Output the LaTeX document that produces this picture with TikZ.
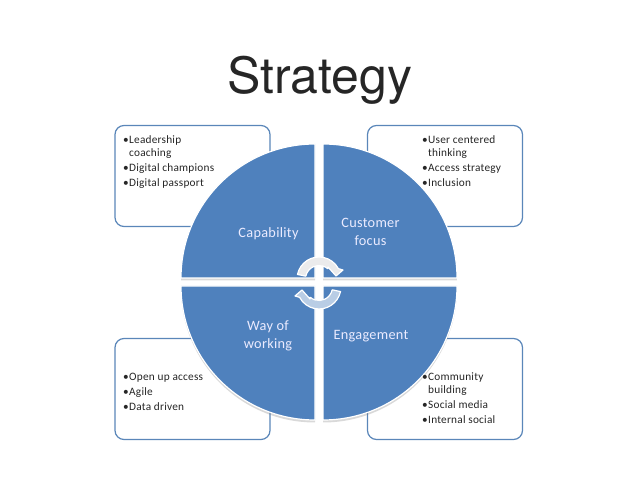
\documentclass[tikz,border=0pt]{standalone}
\usepackage{fontspec}
\setmainfont{Carlito}[LetterSpace=2]
\newfontfamily\titlefont{TeX Gyre Heros}
\usetikzlibrary{positioning,shadows}
\definecolor{quadblue}{HTML}{4F81BD}
\definecolor{boxblue}{HTML}{5A86B9}
\newcommand{\bl}{\makebox[6pt][l]{\textbullet}}
\newcommand{\hg}{\hspace*{6pt}}

\begin{document}
\begin{tikzpicture}[x=1pt, y=1pt,
        infobox/.style={rectangle, draw=boxblue, line width=1.2pt, fill=white, rounded corners=9pt, minimum width=155pt, minimum height=101pt, inner sep=0pt},
        boxtext/.style={anchor=north west, inner sep=0pt, align=left, font=\fontsize{11.3}{13}\selectfont, text=black!85},
        quad/.style={fill=quadblue, draw=white, line width=1.2pt, drop shadow={shadow xshift=0pt, shadow yshift=-2.5pt, opacity=.3}},
        quadtext/.style={align=center, font=\fontsize{14.3}{17.5}\selectfont, text=white!92!blue},
        turn/.style={draw=white, line width=1.2pt, line join=round}
    ]
    \useasboundingbox (0,0) rectangle (638,479);

    %% ---- Title ----
    \node[font=\titlefont\fontsize{50}{50}\selectfont, text=black!85, inner sep=0pt] (title) at (319.5,399) {Strategy};

    %% ---- Outer boxes ----
    \node[infobox] (capbox) at (192.5,303) {};
    \node[infobox] (cusbox) at (445,303) {};
    \node[infobox] (waybox) at (192.5,90) {};
    \node[infobox] (engbox) at (445,90) {};

    %% ---- Quarter circles ----
    \draw[quad] (315,201) -- (181,201) arc (180:90:134) -- cycle;
    \draw[quad] (323,201) -- (323,335) arc (90:0:134) -- cycle;
    \draw[quad] (315,193) -- (315,59) arc (270:180:134) -- cycle;
    \draw[quad] (323,193) -- (457,193) arc (0:-90:134) -- cycle;

    \node[quadtext] (cap) at (268.5,245) {Capability};
    \node[quadtext] (cus) at (370.5,247) {Customer\\focus};
    \node[quadtext] (way) at (268,143) {Way of\\working};
    \node[quadtext] (eng) at (371,143) {Engagement};

    %% ---- Bullet lists ----
    \node[boxtext] (captext) at (123,344) {\bl Leadership\\\hg coaching\\[2pt]\bl Digital champions\\[2pt]\bl Digital passport};
    \node[boxtext] (custext) at (422,344) {\bl User centered\\\hg thinking\\[2pt]\bl Access strategy\\[2pt]\bl Inclusion};
    \node[boxtext] (waytext) at (123,106) {\bl Open up access\\[2pt]\bl Agile\\[2pt]\bl Data driven};
    \node[boxtext] (engtext) at (422,106) {\bl Community\\\hg building\\[2pt]\bl Social media\\[2pt]\bl Internal social};

    %% ---- Turning arrows ----
    \begin{scope}[shift={(319,200)}]
        \draw[turn, fill=blue!8!black!8!white] (168:22) arc (168:28:22) -- (24,9) -- (17,3) -- (9,12) -- (50:13.5) arc (50:168:13.5) -- cycle;
    \end{scope}
    \begin{scope}[shift={(319,192)}, rotate=180]
        \draw[turn, fill=quadblue!40!white] (168:22) arc (168:28:22) -- (24,9) -- (17,3) -- (9,12) -- (50:13.5) arc (50:168:13.5) -- cycle;
    \end{scope}

\end{tikzpicture}
\end{document}
